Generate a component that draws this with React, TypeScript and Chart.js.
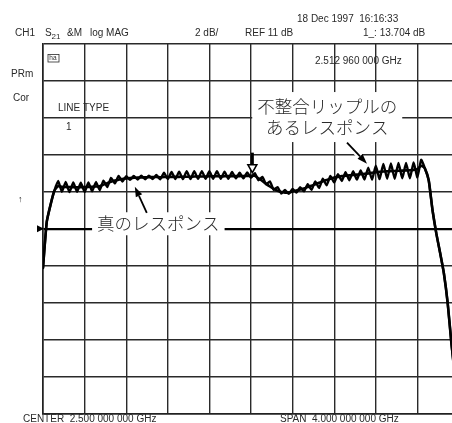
import React, { useEffect, useRef } from "react";
import { Chart, registerables } from "chart.js";
Chart.register(...registerables);

// ---- instrument settings ----
const CENTER_GHZ = 2.5;
const SPAN_GHZ = 4.0;
const REF_DB = 11;
const SCALE_DB = 2;
const DIVISIONS = 10;
const MARKER_GHZ = 2.51296;
const MARKER_DB = 13.704;
const DATE_TEXT = "18 Dec 1997  16:16:33";

// ---- trace data (dB), one value per sweep point ----
const TRUE_RESPONSE = [
  8.89, 11.38, 12.3, 13.05, 13.3, 13.27, 13.25, 13.25, 13.24, 13.24,
  13.24, 13.25, 13.26, 13.27, 13.28, 13.3, 13.38, 13.46, 13.54, 13.6,
  13.65, 13.69, 13.72, 13.74, 13.75, 13.76, 13.77, 13.78, 13.78, 13.79,
  13.79, 13.78, 13.79, 13.79, 13.8, 13.8, 13.8, 13.81, 13.81, 13.81,
  13.82, 13.82, 13.82, 13.82, 13.83, 13.83, 13.83, 13.83, 13.83, 13.84,
  13.84, 13.84, 13.84, 13.85, 13.85, 13.86, 13.86, 13.72, 13.58, 13.42,
  13.28, 13.15, 13.05, 12.98, 12.95, 12.95, 13.0, 13.06, 13.12, 13.18,
  13.25, 13.32, 13.4, 13.48, 13.56, 13.63, 13.7, 13.76, 13.8, 13.84,
  13.86, 13.88, 13.9, 13.92, 13.94, 13.96, 13.98, 14.02, 14.05, 14.07,
  14.09, 14.1, 14.11, 14.12, 14.13, 14.14, 14.15, 14.16, 14.18, 14.22,
  14.4, 14.25, 13.6, 12.0, 10.75, 9.7, 8.6, 7.0, 4.8, 2.9,
  1.0,
];
const RIPPLE_RESPONSE = [
  8.89, 11.38, 12.3, 13.05, 13.58, 13.0, 13.52, 12.98, 13.5, 13.0,
  13.48, 12.98, 13.5, 13.02, 13.52, 13.08, 13.6, 13.25, 13.75, 13.45,
  13.85, 13.55, 13.84, 13.64, 13.85, 13.66, 13.86, 13.67, 13.87, 13.68,
  13.9, 13.67, 14.02, 13.68, 14.06, 13.68, 14.08, 13.68, 14.1, 13.68,
  14.1, 13.69, 14.11, 13.69, 14.11, 13.7, 14.1, 13.7, 14.08, 13.7,
  14.06, 13.72, 14.02, 13.72, 14.04, 13.75, 14.0, 13.62, 13.8, 13.4,
  13.55, 13.1, 13.25, 12.9, 13.1, 12.88, 13.15, 12.95, 13.25, 13.02,
  13.4, 13.1, 13.55, 13.2, 13.7, 13.35, 13.85, 13.5, 13.95, 13.58,
  14.05, 13.62, 14.1, 13.65, 14.15, 13.66, 14.3, 13.65, 14.4, 13.68,
  14.5, 13.7, 14.52, 13.7, 14.55, 13.72, 14.55, 13.72, 14.58, 13.78,
  14.72, 14.25, 13.6, 12.0, 10.75, 9.7, 8.6, 7.0, 4.8, 2.9,
  1.0,
];

// ---- annotations (data coordinates: GHz, dB) ----
const LABEL_TRUE = { text: "真のレスポンス", f: 1.609, db: 11.27 };
const LABEL_RIPPLE = { lines: ["不整合リップルの", "あるレスポンス"], f: 3.233, db: 17.03 };
const ARROW_TRUE = { from: [1.498, 11.86], to: [1.383, 13.27] };
const ARROW_RIPPLE = { from: [3.423, 15.65], to: [3.615, 14.51] };

const START_GHZ = CENTER_GHZ - SPAN_GHZ / 2;
const STOP_GHZ = CENTER_GHZ + SPAN_GHZ / 2;
const POINTS = TRUE_RESPONSE.length;
const SWEEP = TRUE_RESPONSE.map((_, i) => START_GHZ + (i * SPAN_GHZ) / (POINTS - 1));

const fmtGHz = (v: number) => {
  const s = v.toFixed(9);
  const [a, b] = s.split(".");
  return `${a}.${b.slice(0, 3)} ${b.slice(3, 6)} ${b.slice(6, 9)} GHz`;
};

const FONT = '"Liberation Sans", Arial, Helvetica, sans-serif';
const JP_FONT = '300 17.5px "Noto Sans CJK JP", "Noto Sans", sans-serif';
const INK = "#2a2a2a";

function drawArrow(ctx: CanvasRenderingContext2D, x1: number, y1: number, x2: number, y2: number) {
  const ang = Math.atan2(y2 - y1, x2 - x1);
  const L = 10, W = 3.5;
  const bx = x2 - L * Math.cos(ang), by = y2 - L * Math.sin(ang);
  ctx.save();
  ctx.strokeStyle = "#fff";
  ctx.lineWidth = 6;
  ctx.beginPath(); ctx.moveTo(x1, y1); ctx.lineTo(bx, by); ctx.stroke();
  ctx.strokeStyle = "#000";
  ctx.lineWidth = 1.8;
  ctx.beginPath(); ctx.moveTo(x1, y1); ctx.lineTo(bx, by); ctx.stroke();
  ctx.fillStyle = "#000";
  ctx.beginPath();
  ctx.moveTo(x2, y2);
  ctx.lineTo(bx + W * Math.sin(ang), by - W * Math.cos(ang));
  ctx.lineTo(bx - W * Math.sin(ang), by + W * Math.cos(ang));
  ctx.closePath();
  ctx.fill();
  ctx.restore();
}

const annotPlugin = {
  id: "annot",
  beforeDatasetsDraw(chart: any) {
    const { ctx } = chart;
    const { x, y } = chart.scales;
    ctx.save();
    ctx.font = JP_FONT;
    ctx.fillStyle = "#fff";
    {
      const cx = x.getPixelForValue(LABEL_TRUE.f);
      const cy = y.getPixelForValue(LABEL_TRUE.db);
      const w = ctx.measureText(LABEL_TRUE.text).width;
      ctx.fillRect(cx - w / 2 - 5, cy - 11.5, w + 10, 23);
    }
    {
      const cx = x.getPixelForValue(LABEL_RIPPLE.f);
      const cy = y.getPixelForValue(LABEL_RIPPLE.db);
      const w = Math.max(...LABEL_RIPPLE.lines.map((t) => ctx.measureText(t).width));
      ctx.fillRect(cx - w / 2 - 5, cy - 25, w + 10, 50);
    }
    ctx.restore();
  },
  afterDatasetsDraw(chart: any) {
    const { ctx } = chart;
    const { x, y } = chart.scales;
    ctx.save();
    ctx.fillStyle = INK;
    ctx.font = JP_FONT;
    ctx.textAlign = "center";
    ctx.textBaseline = "middle";
    ctx.fillText(LABEL_TRUE.text, x.getPixelForValue(LABEL_TRUE.f), y.getPixelForValue(LABEL_TRUE.db));
    const rcx = x.getPixelForValue(LABEL_RIPPLE.f);
    const rcy = y.getPixelForValue(LABEL_RIPPLE.db);
    ctx.fillText(LABEL_RIPPLE.lines[0], rcx, rcy - 10.5);
    ctx.fillText(LABEL_RIPPLE.lines[1], rcx, rcy + 10.5);
    ctx.restore();

    drawArrow(ctx, x.getPixelForValue(ARROW_TRUE.from[0]), y.getPixelForValue(ARROW_TRUE.from[1]),
      x.getPixelForValue(ARROW_TRUE.to[0]), y.getPixelForValue(ARROW_TRUE.to[1]));
    drawArrow(ctx, x.getPixelForValue(ARROW_RIPPLE.from[0]), y.getPixelForValue(ARROW_RIPPLE.from[1]),
      x.getPixelForValue(ARROW_RIPPLE.to[0]), y.getPixelForValue(ARROW_RIPPLE.to[1]));

    const mx = x.getPixelForValue(MARKER_GHZ);
    const my = y.getPixelForValue(MARKER_DB);
    ctx.save();
    ctx.fillStyle = "#000";
    ctx.fillRect(mx - 1.5, my - 26, 3, 12);
    ctx.fillStyle = "#fff";
    ctx.strokeStyle = "#000";
    ctx.lineWidth = 1.5;
    ctx.beginPath();
    ctx.moveTo(mx - 4.5, my - 14);
    ctx.lineTo(mx + 4.5, my - 14);
    ctx.lineTo(mx, my - 6);
    ctx.closePath();
    ctx.fill();
    ctx.stroke();
    const ry = y.getPixelForValue(REF_DB);
    const lx = chart.chartArea.left;
    ctx.fillStyle = "#000";
    ctx.beginPath();
    ctx.moveTo(lx - 6, ry - 3.5);
    ctx.lineTo(lx + 1, ry);
    ctx.lineTo(lx - 6, ry + 3.5);
    ctx.closePath();
    ctx.fill();
    ctx.restore();
  },
  afterDraw(chart: any) {
    const { ctx, chartArea: a } = chart;
    const L = a.left, T = a.top, B = a.bottom;
    ctx.save();
    ctx.fillStyle = INK;
    ctx.textBaseline = "middle";
    ctx.textAlign = "left";
    const t = (s: string, px: number, py: number, size = 10) => {
      ctx.font = `${size}px ${FONT}`;
      ctx.fillText(s, px, py);
    };
    t(DATE_TEXT, 297, T - 24);
    t("CH1", 15, T - 10);
    t("S", 45, T - 10);
    t("21", 51.5, T - 7, 8);
    t("&M", 67, T - 10);
    t("log MAG", 90, T - 10);
    t(`${SCALE_DB} dB/`, 195, T - 10);
    t(`REF ${REF_DB} dB`, 245, T - 10);
    t(`1_: ${MARKER_DB.toFixed(3)} dB`, 363, T - 10);
    t(fmtGHz(MARKER_GHZ), 315, T + 17.5);
    t("PRm", 11, T + 31);
    t("Cor", 13, T + 55);
    t("LINE TYPE", 58, T + 65);
    t("1", 66, T + 84);
    t("↑", 18, T + 156, 9);
    t(`CENTER  ${fmtGHz(CENTER_GHZ)}`, 23, B + 5.5);
    t(`SPAN  ${fmtGHz(SPAN_GHZ)}`, 280, B + 5.5);
    ctx.strokeStyle = INK;
    ctx.lineWidth = 0.8;
    ctx.strokeRect(L + 5, T + 11, 11, 7.5);
    t("ha", L + 6.3, T + 15, 6.5);
    ctx.restore();
  },
};

export default function App() {
  const ref = useRef<HTMLCanvasElement | null>(null);
  useEffect(() => {
    if (!ref.current) return;
    const xTicks = Array.from({ length: DIVISIONS + 1 }, (_, k) => START_GHZ + (k * SPAN_GHZ) / DIVISIONS);
    const yMin = REF_DB - (DIVISIONS / 2) * SCALE_DB;
    const yMax = REF_DB + (DIVISIONS / 2) * SCALE_DB;
    const yTicks = Array.from({ length: DIVISIONS + 1 }, (_, k) => yMin + k * SCALE_DB);
    const chart = new Chart(ref.current, {
      type: "line",
      data: {
        datasets: [
          {
            label: "true",
            data: TRUE_RESPONSE.map((v, i) => ({ x: SWEEP[i], y: v })),
            borderColor: "#000",
            borderWidth: 2.6,
            borderJoinStyle: "round",
            borderCapStyle: "round",
            pointRadius: 0,
            tension: 0.2,
            fill: false,
          },
          {
            label: "ripple",
            data: RIPPLE_RESPONSE.map((v, i) => ({ x: SWEEP[i], y: v })),
            borderColor: "#000",
            borderWidth: 2.4,
            borderJoinStyle: "round",
            borderCapStyle: "round",
            pointRadius: 0,
            tension: 0.15,
            fill: false,
          },
        ],
      },
      options: {
        animation: false,
        responsive: false,
        devicePixelRatio: 1,
        layout: { padding: { left: 43, top: 43.5, right: 11, bottom: 9 } },
        plugins: { legend: { display: false }, tooltip: { enabled: false } },
        scales: {
          x: {
            type: "linear",
            min: START_GHZ,
            max: STOP_GHZ,
            afterBuildTicks: (s: any) => { s.ticks = xTicks.map((v) => ({ value: v })); },
            afterFit: (s: any) => { s.height = 0; },
            ticks: { display: false },
            grid: { color: "#2a2a2a", lineWidth: 1.4, drawTicks: false },
            border: { display: true, color: "#222", width: 1.6 },
          },
          y: {
            type: "linear",
            min: yMin,
            max: yMax,
            afterBuildTicks: (s: any) => { s.ticks = yTicks.map((v) => ({ value: v })); },
            afterFit: (s: any) => { s.width = 0; },
            ticks: { display: false },
            grid: {
              color: (c: any) => (c.tick && c.tick.value === REF_DB ? "#000" : "#2a2a2a"),
              lineWidth: (c: any) => (c.tick && c.tick.value === REF_DB ? 2.2 : 1.4),
              drawTicks: false,
            },
            border: { display: true, color: "#222", width: 1.6 },
          },
        },
      },
      plugins: [annotPlugin],
    });
    return () => chart.destroy();
  }, []);
  return (
    <div style={{ position: "absolute", left: 0, top: 0, width: 452, height: 423, overflow: "hidden", background: "#fff" }}>
      <canvas ref={ref} width={470} height={423} style={{ display: "block", width: 470, height: 423 }} />
    </div>
  );
}
